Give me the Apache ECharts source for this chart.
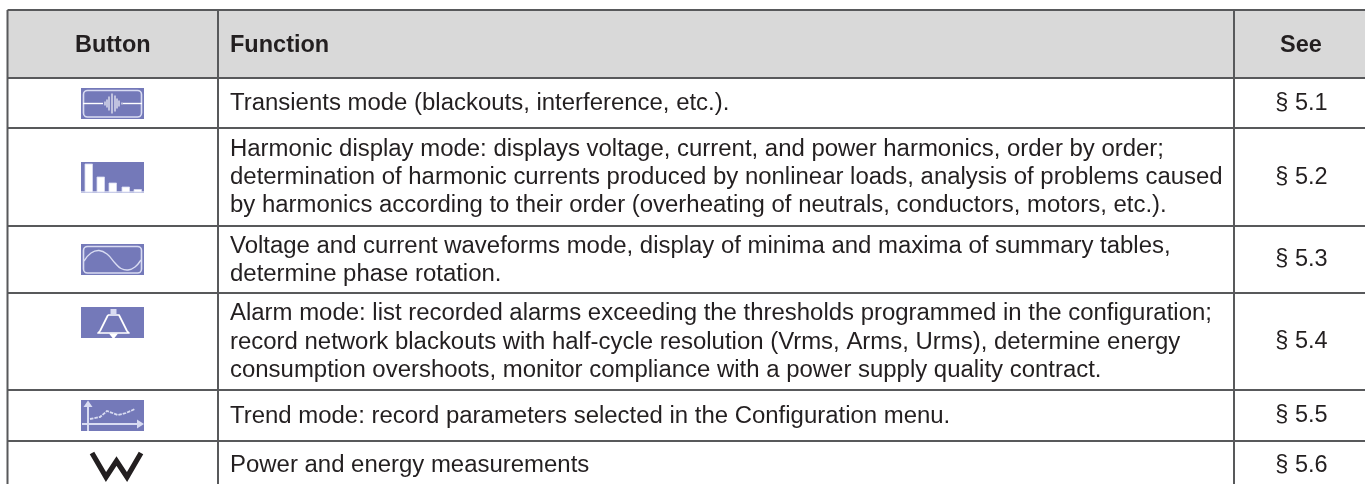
<!DOCTYPE html>
<html><head><meta charset="utf-8">
<style>html,body{margin:0;padding:0;background:#fff}#c{width:1365px;height:484px}</style>
<script src="https://cdn.jsdelivr.net/npm/echarts@6/dist/echarts.min.js"></script>
</head><body><div id="c"></div>
<script>
const headers = ['Button', 'Function', 'See'];
const icons = ['transients', 'harmonics', 'waveform', 'alarm', 'trend', 'power'];
const functionLines = [
  ['Transients mode (blackouts, interference, etc.).'],
  ['Harmonic display mode: displays voltage, current, and power harmonics, order by order;',
   'determination of harmonic currents produced by nonlinear loads, analysis of problems caused',
   'by harmonics according to their order (overheating of neutrals, conductors, motors, etc.).'],
  ['Voltage and current waveforms mode, display of minima and maxima of summary tables,',
   'determine phase rotation.'],
  ['Alarm mode: list recorded alarms exceeding the thresholds programmed in the configuration;',
   'record network blackouts with half-cycle resolution (Vrms, Arms, Urms), determine energy',
   'consumption overshoots, monitor compliance with a power supply quality contract.'],
  ['Trend mode: record parameters selected in the Configuration menu.'],
  ['Power and energy measurements']
];
const seeRefs = ['§ 5.1', '§ 5.2', '§ 5.3', '§ 5.4', '§ 5.5', '§ 5.6'];

// layout
const colX = [7.5, 218, 1234, 1365];
const rowY = [10, 78, 128, 226, 293, 390, 441, 490];
const iconTop = [88, 162, 244, 307, 400];
const FONT = '"Liberation Sans", Arial, sans-serif';
const INK = '#231f20', RULE = '#58595b', HEAD = '#d9d9d9', BTN = '#7479b9', PALE = '#d9dcf2';
const LH = 28.2, FS = 23.95, HFS = 23.5, SFS = 23.5;

const g = [];
const line = (x1, y1, x2, y2, w) => g.push({type:'line', shape:{x1,y1,x2,y2}, style:{stroke:RULE, lineWidth:w||2}, z:5});
const text = (t, x, y, align, bold, size) => g.push({type:'text', x, y, z:6, style:{text:t, x:0, y:0, align, verticalAlign:'middle', fill:INK, font:(bold?'bold ':'')+(size||FS)+'px '+FONT}});

g.push({type:'rect', shape:{x:colX[0], y:rowY[0], width:colX[3]-colX[0], height:rowY[1]-rowY[0]}, style:{fill:HEAD}, z:1});
rowY.slice(0, 7).forEach(y => line(colX[0], y, colX[3], y));
colX.slice(0, 3).forEach(x => line(x, rowY[0], x, 484));

text(headers[0], (colX[0]+colX[1])/2, 45.5, 'center', true, HFS);
text(headers[1], 230, 45.5, 'left', true, HFS);
text(headers[2], 1301, 45.5, 'center', true, HFS);

functionLines.forEach((ls, r) => {
  const c = (rowY[r+1] + rowY[r+2]) / 2 + (r === 5 ? 0 : 0.5);
  ls.forEach((t, i) => text(t, 230, c + (i - (ls.length-1)/2) * LH, 'left'));
  text(seeRefs[r], 1301.5, c, 'center', false, SFS);
});

// icons: local coordinates inside a 63 x 31 button
const S = (o) => Object.assign({stroke:PALE, fill:null, lineWidth:1.4, lineJoin:'round'}, o);
const frame = () => ({type:'rect', shape:{x:2.5, y:2.5, width:58, height:26.5, r:4}, style:S({lineWidth:1.6})});
const iconParts = {
  transients: () => {
    const parts = [frame(),
      {type:'line', shape:{x1:2,y1:15.5,x2:22,y2:15.5}, style:S({stroke:'#fff'})},
      {type:'line', shape:{x1:42,y1:15.5,x2:61,y2:15.5}, style:S({stroke:'#fff'})}];
    [[24,2],[26,4],[28,7],[31,10],[34,8],[36,5],[38,3],[41,1]].forEach(([x,h]) =>
      parts.push({type:'line', shape:{x1:x,y1:15.5-h,x2:x,y2:15.5+h}, style:S({stroke:'#fff', lineWidth:1.1})}));
    return parts;
  },
  harmonics: () => {
    const parts = [{type:'line', shape:{x1:0,y1:30,x2:63,y2:30}, style:S({lineWidth:1.6})}];
    [[4,2],[16,15],[28,21],[41,25],[53,27.5]].forEach(([x,t]) =>
      parts.push({type:'rect', shape:{x, y:t, width:7.5, height:30-t}, style:{fill:'#fff', stroke:PALE, lineWidth:0.8}}));
    return parts;
  },
  waveform: () => [frame(),
    {type:'polyline', shape:{smooth:0.4, points:[[3,17],[10,9],[18,6.5],[26,10],[34,19],[40,24.5],[47,26],[54,23],[60,16]]}, style:S({})}],
  alarm: () => [
    {type:'polyline', shape:{points:[[27,8],[38,8],[46,24],[48,26],[17,26],[19,24],[27,8]]}, style:S({stroke:'#fff', lineWidth:1.7})},
    {type:'rect', shape:{x:29.5,y:2,width:6,height:6}, style:{fill:PALE}},
    {type:'polygon', shape:{points:[[28,26.5],[37,26.5],[33.5,31],[31.5,31]]}, style:{fill:'#fff'}}],
  trend: () => [
    {type:'line', shape:{x1:7,y1:3,x2:7,y2:31}, style:S({stroke:PALE, lineWidth:2})},
    {type:'line', shape:{x1:1,y1:24,x2:60,y2:24}, style:S({stroke:PALE, lineWidth:2})},
    {type:'polygon', shape:{points:[[7,0.5],[2.5,7],[11.5,7]]}, style:{fill:PALE}},
    {type:'polygon', shape:{points:[[63,24],[56,19.5],[56,28.5]]}, style:{fill:PALE}},
    {type:'polyline', shape:{points:[[9,19],[19,17],[26,11],[37,15],[45,13],[54,9]]}, style:S({lineDash:[3.5,1], lineWidth:1.8})}]
};
icons.slice(0, 5).forEach((name, i) => {
  g.push({type:'group', x:81, y:iconTop[i], z:7, children:[
    {type:'rect', shape:{x:0,y:0,width:63,height:31}, style:{fill:BTN}},
    ...iconParts[name]()
  ]});
});
g.push({type:'polyline', z:7, shape:{points:[[92,453],[106,477],[116.5,461],[127,477],[141,453]]},
        style:{stroke:INK, fill:null, lineWidth:5.2, lineJoin:'miter', miterLimit:4}});

const chart = echarts.init(document.getElementById('c'), null, {renderer:'canvas'});
chart.setOption({animation:false, backgroundColor:'#fff', graphic:{elements:g}});
</script></body></html>
